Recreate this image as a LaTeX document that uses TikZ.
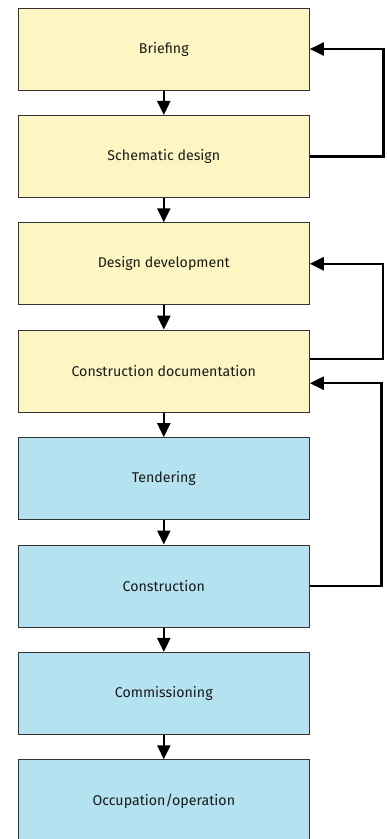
\documentclass[tikz,border=0pt]{standalone}
\usepackage{fontspec}
\setmainfont{Fira Sans}
\usetikzlibrary{positioning,arrows.meta}
\definecolor{stageyellow}{HTML}{FDF6C3}
\definecolor{stageblue}{HTML}{B5E2F0}
\definecolor{stageline}{HTML}{333333}
\tikzset{
  stage/.style={draw=stageline, line width=1pt, minimum width=291pt, minimum height=82pt,
    inner sep=0pt, text=black!90, font=\fontsize{14.2}{16}\selectfont},
  design/.style={stage, fill=stageyellow},
  site/.style={stage, fill=stageblue},
  flow/.style={line width=2.4pt, -{Triangle[length=14pt,width=13pt]}},
}
\begin{document}
\begin{tikzpicture}[x=1pt,y=1pt, node distance=24.4pt]
  \useasboundingbox (0,0) rectangle (387,-839);
  \node[design] (brief) at (163.8,-49) {Briefing};
  \node[design, below=of brief] (schem) {Schematic design};
  \node[design, below=of schem] (devel) {Design development};
  \node[design, below=of devel] (docu) {Construction documentation};
  \node[site, below=of docu] (tender) {Tendering};
  \node[site, below=of tender] (constr) {Construction};
  \node[site, below=of constr] (commis) {Commissioning};
  \node[site, below=of commis] (occup) {Occupation/operation};
  % main sequence
  \foreach \a/\b in {brief/schem, schem/devel, devel/docu, docu/tender,
                     tender/constr, constr/commis, commis/occup}
    \draw[flow] (\a) -- (\b);
  % feedback loops
  \draw[flow] (schem.east) -- ++(73.5,0) |- (brief.east);
  \draw[flow] ([yshift=12pt]docu.east) -- ++(73,0) |- (devel.east);
  \draw[flow] (constr.east) -- ++(71.5,0) |- ([yshift=-12pt]docu.east);
\end{tikzpicture}
\end{document}
